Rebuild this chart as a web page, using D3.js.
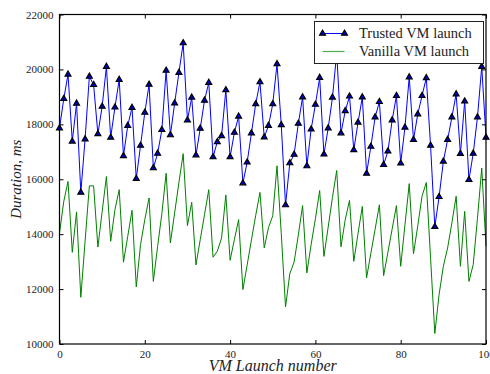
<!DOCTYPE html>
<html>
<head>
<meta charset="utf-8">
<script src="https://cdn.jsdelivr.net/npm/d3@7"></script>
<style>
  html, body { margin: 0; padding: 0; background: #fff; }
  svg { display: block; }
</style>
</head>
<body>
<svg id="chart" width="490" height="374"></svg>
<script>
// ---- Data ----
const trusted = [
  17860, 18930, 19820, 17380, 18760, 15520, 17460, 19740, 19440, 17650,
  18650, 20100, 17520, 18620, 19630, 16850, 17950, 18610, 16020, 17230,
  18430, 19450, 16410, 16940, 17800, 19960, 17610, 18770, 19880, 20960,
  18150, 18980, 16880, 17850, 18870, 19520, 16810, 17360, 17580, 19250,
  16810, 17700, 18290, 15860, 16620, 17680, 18740, 19540, 17530, 17950,
  18740, 20200, 17980, 15060, 16590, 16900, 18030, 18990, 16480, 17820,
  18720, 19700, 16910, 17860, 18980, 20600, 17680, 18490, 19020, 17070,
  18070, 18990, 16210, 17190, 18260, 18820, 16530, 17020, 18150, 19040,
  16580, 17890, 19720, 17440, 18370, 19040, 19690, 17230, 14270, 15360,
  16650, 17440, 18260, 19100, 16930, 18840, 15980, 16940, 18260, 20100,
  17520
];
const vanilla = [
  14040, 15190, 15920, 13340, 14810, 11700, 13740, 15760, 15760, 13530,
  14820, 16100, 13740, 14890, 15620, 12980, 13920, 14870, 12080, 13620,
  14530, 15320, 12280, 13550, 14750, 16220, 13680, 14780, 15880, 16930,
  14310, 15160, 12880, 13800, 14710, 15620, 13160, 13380, 13860, 15430,
  13050, 13800, 14530, 11980, 12880, 13790, 14680, 15520, 13500, 14240,
  14670, 16490, 14020, 11350, 12560, 12980, 13970, 15040, 12590, 13620,
  14560, 15590, 13190, 14260, 15340, 16320, 13540, 14530, 15230, 13010,
  14030, 15010, 12410, 13300, 14180, 15070, 12490, 13340, 14190, 15040,
  12830, 14340, 15840, 13290, 14300, 15380, 15880, 13140, 10380, 11800,
  12830, 13500, 14410, 15380, 12830, 14830, 12280, 12890, 14580, 16410,
  13560
];
const xTicks = [0, 20, 40, 60, 80, 100];
const yTicks = [10000, 12000, 14000, 16000, 18000, 20000, 22000];
const seriesNames = ["Trusted VM launch", "Vanilla VM launch"];
const xLabel = "VM Launch number";
const yLabel = "Duration, ms";

// ---- Layout ----
const svg = d3.select("#chart");
const mL = 59.5, mR = 486, mT = 14.5, mB = 344;
const x = d3.scaleLinear().domain([0, 100]).range([mL, mR]);
const y = d3.scaleLinear().domain([10000, 22000]).range([mB, mT]);
const serif = "'Liberation Serif', 'DejaVu Serif', serif";

// Series
const line = d3.line().x((d, i) => x(i)).y(d => y(d));
svg.append("path").datum(vanilla)
  .attr("d", line).attr("fill", "none")
  .attr("stroke", "#008000").attr("stroke-width", 1);
svg.append("path").datum(trusted)
  .attr("d", line).attr("fill", "none")
  .attr("stroke", "#0000ff").attr("stroke-width", 1);

const tri = d3.symbol().type(d3.symbolTriangle).size(15);
svg.append("g").selectAll("path").data(trusted).join("path")
  .attr("d", tri)
  .attr("transform", (d, i) => `translate(${x(i)},${y(d)})`)
  .attr("fill", "#0000cc").attr("stroke", "#000").attr("stroke-width", 1.2);

// Axes (inward ticks on all sides)
const tickLen = 4;
const axB = svg.append("g").attr("transform", `translate(0,${mB})`)
  .call(d3.axisBottom(x).tickValues(xTicks).tickSize(-tickLen).tickPadding(6).tickFormat(d3.format("d")));
const axT = svg.append("g").attr("transform", `translate(0,${mT})`)
  .call(d3.axisTop(x).tickValues(xTicks).tickSize(-tickLen).tickFormat(""));
const axL = svg.append("g").attr("transform", `translate(${mL},0)`)
  .call(d3.axisLeft(y).tickValues(yTicks).tickSize(-tickLen).tickPadding(5).tickFormat(d3.format("d")));
const axR = svg.append("g").attr("transform", `translate(${mR},0)`)
  .call(d3.axisRight(y).tickValues(yTicks).tickSize(-tickLen).tickFormat(""));
[axB, axT, axL, axR].forEach(a => {
  a.select(".domain").remove();
  a.selectAll("line").attr("stroke", "#000").attr("stroke-width", 1);
  a.selectAll("text").attr("font-family", serif).attr("font-size", 11).attr("fill", "#222");
});
axL.selectAll("text").attr("dx", "-1");

// Frame
svg.append("rect").attr("x", mL).attr("y", mT)
  .attr("width", mR - mL).attr("height", mB - mT)
  .attr("fill", "none").attr("stroke", "#000").attr("stroke-width", 1.2);

// Axis labels
svg.append("text").attr("x", (mL + mR) / 2).attr("y", 371)
  .attr("text-anchor", "middle").attr("font-family", serif)
  .attr("font-style", "italic").attr("font-size", 16).attr("fill", "#222").text(xLabel);
svg.append("text").attr("transform", `translate(21,${(mT + mB) / 2}) rotate(-90)`)
  .attr("text-anchor", "middle").attr("font-family", serif)
  .attr("font-style", "italic").attr("font-size", 15).attr("fill", "#222").text(yLabel);

// Legend
const lg = svg.append("g");
lg.append("rect").attr("x", 314.5).attr("y", 21.5).attr("width", 169).attr("height", 42)
  .attr("fill", "#fff").attr("stroke", "#222").attr("stroke-width", 1);
const rows = [33.5, 51.5];
lg.append("line").attr("x1", 322.5).attr("x2", 344.5).attr("y1", rows[0]).attr("y2", rows[0])
  .attr("stroke", "#0000ff").attr("stroke-width", 1);
[322.5, 344.5].forEach(px => lg.append("path").attr("d", tri)
  .attr("transform", `translate(${px},${rows[0]})`)
  .attr("fill", "#0000cc").attr("stroke", "#000").attr("stroke-width", 1.2));
lg.append("line").attr("x1", 322.5).attr("x2", 344.5).attr("y1", rows[1]).attr("y2", rows[1])
  .attr("stroke", "#4caf50").attr("stroke-width", 1.2);
seriesNames.forEach((s, i) => lg.append("text").attr("x", 359).attr("y", rows[i] + 4.5)
  .attr("font-family", serif).attr("font-size", 14.5).attr("fill", "#222").text(s));
</script>
</body>
</html>
